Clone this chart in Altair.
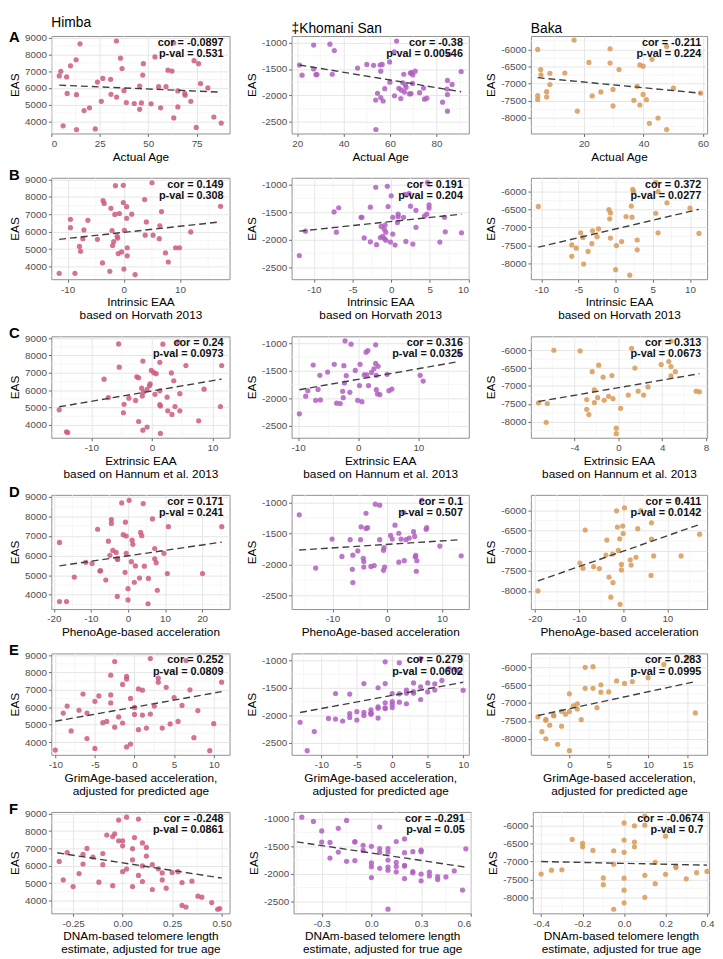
import altair as alt
import pandas as pd

FONT = "Liberation Sans"

populations = ["Himba", "‡Khomani San", "Baka"]
pop_colors = ["#CD5A7F", "#B05FC1", "#D89A56"]
y_domains = [[3270, 9100], [-2720, -875], [-8450, -5610]]
y_ticks = [[4000, 5000, 6000, 7000, 8000, 9000],
           [-2500, -2000, -1500, -1000],
           [-8000, -7500, -7000, -6500, -6000]]

row_letters = ["A", "B", "C", "D", "E", "F"]
row_xtitles = [["Actual Age"],
               ["Intrinsic EAA", "based on Horvath 2013"],
               ["Extrinsic EAA", "based on Hannum et al. 2013"],
               ["PhenoAge-based acceleration"],
               ["GrimAge-based acceleration,", "adjusted for predicted age"],
               ["DNAm-based telomere length", "estimate, adjusted for true age"]]

# ---------------- Row A: actual age ----------------
a1_x = [4.1,4.9,6.1,7.9,8.2,9.9,12.8,13.0,13.0,14.8,16.9,19.7,22.7,23.8,25.8,26.6,30.6,30.8,33.6,33.7,35.7,36.5,37.5,38.7,42.8,45.6,45.6,46.5,47.2,47.5,51.5,53.5,55.4,56.4,59.2,60.2,62.3,63.2,63.2,65.3,65.3,68.9,69.1,72.0,73.7,74.8,76.0,77.0,80.8,83.9,87.7]
a1_y = [6710,6985,3725,6655,5667,7315,7680,5593,3505,8634,4641,4806,3542,6344,5190,6564,6509,5612,8800,5447,7773,7150,5832,5117,5062,4714,6106,5099,6765,7443,5044,7846,6070,4806,6070,7058,7003,8689,4201,4860,5813,5667,5557,5190,7626,3634,7443,6253,5996,4256,3890]
a1_line_x = [4.1, 87.7]
a1_line_y = [6161, 5740]
a1_stats = ["cor = -0.0897", "p-val = 0.531"]
a1_xdom = [0, 92]
a1_xticks = [0, 25, 50, 75]

a2_x = [21.0,22.1,27.1,27.1,28.1,28.5,34.1,35.1,36.0,46.0,50.0,52.9,53.8,53.9,54.6,55.7,56.0,56.0,56.6,57.0,57.7,59.8,59.9,61.8,61.9,62.8,63.8,64.6,64.9,65.5,65.9,66.2,66.6,66.9,68.4,68.7,69.0,69.2,69.7,69.8,70.8,72.7,74.4,74.8,75.8,82.6,84.5,84.7,84.7,84.7,85.4,86.7,90.6]
a2_y = [-1424,-1616,-1047,-1500,-1605,-1605,-1029,-1599,-1151,-1483,-1413,-1430,-2087,-2645,-1959,-1424,-1541,-2041,-1413,-2105,-1872,-1366,-1750,-1174,-2006,-971,-1866,-2058,-1901,-1762,-1599,-1936,-1802,-1849,-1971,-1576,-1965,-1570,-1773,-1610,-1541,-1948,-1860,-2070,-2052,-2128,-1878,-1715,-1983,-2297,-1221,-1791,-1547]
a2_line_x = [21.0, 90.6]
a2_line_y = [-1424, -1930]
a2_stats = ["cor = -0.38", "p-val = 0.00546"]
a2_xdom = [17.6, 93.9]
a2_xticks = [20, 40, 60, 80]

a3_x = [4.5,4.5,4.5,5.5,5.6,7.5,7.5,8.6,8.6,13.6,16.7,17.8,21.7,22.8,25.7,28.8,28.8,29.8,29.8,31.8,36.8,37.9,38.8,38.8,39.9,39.9,41.0,42.0,42.9,44.9,47.8,47.8,50.1,59.2]
a3_y = [-6000,-7348,-7457,-6588,-6742,-7231,-7385,-6697,-7023,-6688,-5729,-7801,-6380,-7357,-7240,-5982,-6398,-7167,-7647,-6588,-7484,-7077,-6452,-7620,-6489,-7312,-7466,-8154,-6290,-8000,-5919,-8335,-7131,-7276]
a3_line_x = [4.5, 59.2]
a3_line_y = [-6824, -7276]
a3_stats = ["cor = -0.211", "p-val = 0.224"]
a3_xdom = [2.2, 61.4]
a3_xticks = [20, 40, 60]

# ---------------- Row B: intrinsic EAA ----------------
b1_x = [-11.5,-9.5,-9.5,-8.7,-7.9,-7.7,-7.3,-7.1,-6.4,-4.7,-3.8,-3.7,-3.5,-2.5,-2.3,-2.1,-2.0,-1.8,-1.6,-1.5,-1.2,-1.1,-1.0,-0.8,-0.4,-0.1,-0.1,0.0,0.1,0.5,0.5,0.6,0.6,1.4,2.0,3.7,3.8,4.0,5.0,5.2,6.3,6.4,6.7,7.4,7.9,9.2,9.9,11.9,17.2]
b1_y = [3610,6714,6230,3610,5152,4874,5599,6100,6658,5561,4204,7792,7625,3721,7346,6063,5208,5431,6993,8647,5729,5636,4743,7048,4836,8665,7680,3851,6082,7439,6770,5078,4613,7011,3535,7848,5803,6565,8814,5803,5599,6342,7160,4781,4260,5078,5078,5988,7457]
b1_line_x = [-11.5, 17.2]
b1_line_y = [5561, 6565]
b1_stats = ["cor = 0.149", "p-val = 0.308"]
b1_xdom = [-12.9, 18.8]
b1_xticks = [-10, 0, 10]

b2_x = [-11.9,-11.1,-7.4,-6.8,-7.1,-3.9,-3.8,-3.5,-2.7,-2.7,-2.0,-1.9,-1.4,-1.3,-1.1,-0.9,-0.9,-0.8,-0.7,-0.7,-0.5,-0.4,-0.1,0.0,0.2,0.2,0.5,0.8,0.9,0.9,1.6,1.8,1.9,2.3,2.5,2.8,3.2,3.2,4.3,4.6,4.7,4.9,4.9,6.3,6.9,7.0,9.1]
b2_y = [-2290,-1846,-1496,-1420,-1864,-1595,-1595,-1969,-1409,-2039,-1047,-2092,-1963,-1759,-1940,-1981,-1811,-1736,-2010,-1864,-1029,-1397,-2045,-1204,-1595,-1899,-2098,-1689,-1537,-1584,-1595,-1175,-2033,-1163,-1391,-2080,-1467,-1776,-1572,-1537,-959,-1368,-1426,-2045,-1595,-1858,-1876]
b2_line_x = [-11.9, 9.1]
b2_line_y = [-1846, -1537]
b2_stats = ["cor = 0.191", "p-val = 0.204"]
b2_xdom = [-12.9, 10.05]
b2_xticks = [-10, -5, 0, 5, 10]

b3_x = [-10.4,-5.9,-5.9,-5.3,-4.7,-4.4,-4.3,-3.7,-3.2,-3.1,-2.5,-2.3,-0.9,-0.8,-0.7,-0.7,0.0,0.1,0.8,1.4,1.9,2.1,2.2,2.3,2.4,2.9,2.9,5.4,5.4,5.7,5.7,6.9,10.0,11.2]
b3_y = [-6411,-7489,-7808,-7580,-7151,-7279,-8027,-7671,-7452,-7096,-7260,-7041,-6502,-6758,-7297,-6594,-8183,-7507,-7397,-6694,-8338,-6402,-6712,-5936,-6000,-7352,-7626,-5735,-6603,-6000,-7151,-6311,-6457,-7169]
b3_line_x = [-10.4, 11.2]
b3_line_y = [-7553, -6493]
b3_stats = ["cor = 0.372", "p-val = 0.0277"]
b3_xdom = [-11.4, 12.3]
b3_xticks = [-10, -5, 0, 5, 10]

# ---------------- Row C: extrinsic EAA ----------------
c1_x = [-15.3,-14.1,-13.9,-7.9,-7.2,-5.5,-5.4,-4.6,-4.7,-3.8,-2.7,-2.5,-2.2,-2.2,-1.7,-1.6,-1.5,-1.5,-1.4,-0.8,-0.8,-0.4,-0.3,-0.1,0.3,0.5,0.7,1.3,1.3,1.3,1.4,1.4,1.8,2.5,2.6,3.2,3.3,3.6,3.8,4.3,4.6,4.6,5.6,7.7,8.6,11.3,11.5]
c1_y = [4874,3610,3572,6639,5580,8665,7327,5190,4706,5543,5413,6770,6714,4204,6119,5673,7680,3703,5896,3888,6045,6268,6361,7141,7011,5766,6955,7606,5970,5171,5097,3517,8647,5599,4818,6993,4613,6546,5059,8777,4818,5803,7420,4242,6063,5059,7420]
c1_line_x = [-15.3, 11.5]
c1_line_y = [5050, 6639]
c1_stats = ["cor = 0.24", "p-val = 0.0973"]
c1_xdom = [-16.6, 12.8]
c1_xticks = [-10, 0, 10]

c2_x = [-9.8,-8.75,-8.4,-7.5,-7.1,-6.7,-6.4,-6.3,-5.1,-4.0,-3.6,-3.0,-2.6,-2.5,-2.4,-2.3,-2.2,-2.0,-1.2,-1.4,-0.5,-0.1,0.2,0.3,0.6,1.0,1.3,1.4,1.6,1.7,2.2,2.6,2.9,2.9,3.0,3.0,3.2,3.3,3.6,4.8,5.1,5.6,10.3,10.8,16.8]
c2_y = [-2284,-1963,-1864,-1397,-2039,-1841,-1584,-2033,-1525,-1385,-2092,-2098,-1876,-1992,-1409,-1724,-959,-1590,-1018,-1893,-1496,-2039,-1771,-1385,-2063,-1578,-1163,-1578,-1134,-1771,-1531,-1467,-1368,-1029,-1584,-1846,-1922,-1420,-1934,-1566,-1864,-1835,-1584,-1689,-1187]
c2_line_x = [-9.8, 16.8]
c2_line_y = [-1846, -1333]
c2_stats = ["cor = 0.316", "p-val = 0.0325"]
c2_xdom = [-11.1, 18.4]
c2_xticks = [-10, 0, 10]

c3_x = [-7.3,-6.5,-6.6,-5.9,-3.5,-2.9,-2.9,-2.7,-2.4,-2.2,-2.2,-1.9,-1.8,-1.4,-1.3,-0.9,-0.6,-0.5,-0.2,-0.2,0.2,0.9,1.2,1.5,1.8,2.3,2.7,3.9,4.6,4.8,4.8,4.8,5.2,7.1,7.4]
c3_y = [-7473,-7491,-8018,-6000,-6018,-7655,-7382,-7800,-6600,-7109,-7464,-7327,-6418,-6755,-7400,-7291,-6709,-7355,-8182,-8336,-7627,-7255,-5945,-6500,-7145,-7255,-7027,-6400,-6318,-6455,-6718,-5745,-6600,-7145,-7164]
c3_line_x = [-7.3, 7.4]
c3_line_y = [-7436, -6655]
c3_stats = ["cor = 0.313", "p-val = 0.0673"]
c3_xdom = [-8.0, 8.1]
c3_xticks = [-4, 0, 4, 8]

# ---------------- Row D: PhenoAge ----------------
d1_x = [-18.5,-18.5,-16.6,-14.5,-11.4,-9.7,-8.2,-7.6,-7.4,-6.0,-5.3,-4.9,-4.5,-4.5,-4.1,-3.2,-2.9,-2.8,-2.9,-1.7,-1.3,-0.8,-0.7,-0.5,-0.5,0.0,0.0,0.3,0.9,1.1,1.3,1.7,2.0,3.1,3.4,3.7,4.1,4.4,5.4,5.5,6.6,7.2,7.2,7.6,7.9,9.7,10.6,10.9,20.1,25.3]
d1_y = [6672,3656,3656,4902,5656,5590,7344,5213,5230,4754,6738,6016,7836,7639,6262,6164,5836,5803,3918,8689,7066,5148,7705,7000,6115,3738,4311,8820,5689,6787,6574,4639,5475,4852,7180,7016,8656,5459,3541,4836,7869,6361,5836,5639,4230,6115,5082,7475,5082,7475]
d1_line_x = [-18.5, 25.3]
d1_line_y = [5475, 6689]
d1_stats = ["cor = 0.171", "p-val = 0.241"]
d1_xdom = [-20.7, 27.4]
d1_xticks = [-20, -10, 0, 10, 20]

d2_x = [-16.1,-13.1,-10.1,-8.3,-6.8,-6.4,-6.3,-6.3,-5.4,-4.9,-4.8,-4.4,-4.3,-4.3,-3.9,-3.9,-3.6,-3.0,-2.4,-2.2,-1.4,-1.4,-0.7,-0.6,-0.7,-0.5,0.6,0.9,1.4,2.1,2.1,2.5,3.0,3.1,3.4,4.0,4.8,5.0,5.1,5.2,5.3,5.4,6.3,7.1,7.2,9.6,13.5]
d2_y = [-1198,-2057,-1589,-1870,-1599,-2078,-1849,-2292,-1781,-1599,-1391,-1901,-1953,-2042,-1172,-1417,-1406,-2031,-2016,-1026,-1042,-1599,-1771,-1729,-2094,-2042,-1531,-1589,-1365,-1495,-1963,-1589,-1156,-1938,-1599,-1573,-1469,-1547,-1875,-1854,-2109,-1938,-958,-1432,-1406,-1703,-1859]
d2_line_x = [-16.1, 13.5]
d2_line_y = [-1766, -1599]
d2_stats = ["cor = 0.1", "p-val = 0.507"]
d2_xdom = [-17.5, 14.9]
d2_xticks = [-10, 0, 10]

d3_x = [-19.3,-9.8,-9.1,-8.6,-6.7,-5.4,-3.9,-3.7,-3.2,-2.8,-2.4,-2.3,-1.5,-1.3,-1.1,-0.8,-0.7,-0.4,-0.4,-0.1,0.0,0.3,1.6,1.8,2.9,3.3,4.0,6.3,6.4,6.4,6.9,12.3,13.1,17.3]
d3_y = [-8000,-7306,-7435,-6484,-7395,-7444,-7105,-6734,-7653,-8153,-7081,-7790,-6008,-6411,-6992,-6702,-8331,-7476,-7339,-6387,-6573,-5935,-7226,-7355,-7161,-6452,-6000,-7613,-6306,-6710,-7129,-5734,-7129,-6589]
d3_line_x = [-19.3, 17.3]
d3_line_y = [-7750, -6347]
d3_stats = ["cor = 0.411", "p-val = 0.0142"]
d3_xdom = [-20.9, 19.0]
d3_xticks = [-20, -10, 0, 10]

# ---------------- Row E: GrimAge ----------------
e1_x = [-3,1,-1,-4.5,-6,-1.5,3,0,9.5,-2.5,-8,1.5,-10,-5,-3.5,5,-0.5,2,2,-2,-1,4,-7,-4,10,0.5,6,-1.5,-6.5,11,4.5,-3,-8.5,3.5,2.5,0.5,7,6.5,-6,-2.5,8,-9,1,5.5,-1,-5,3,-3,0,7.5,-0.5]
e1_y = [6710,6985,3725,6655,5667,7315,7680,5593,3505,8634,4641,4806,3542,6344,5190,6564,6509,5612,8800,5447,7773,7150,5832,5117,5062,4714,6106,5099,6765,7443,5044,7846,6070,4806,6070,7058,7003,8689,4201,4860,5813,5667,5557,5190,7626,3634,7443,6253,5996,4256,3890]
e1_line_x = [-10, 11]
e1_line_y = [5200, 6900]
e1_stats = ["cor = 0.252", "p-val = 0.0809"]
e1_xdom = [-10.5, 12.0]
e1_xticks = [-10, -5, 0, 5, 10]

e2_x = [-4,-6,1,-2,-8,0,-1,3,8,4,5,6,-5,-12,-3,-1,2,-6,3,-7,-2,7,0,9,-4,4,-1,-9,-3,1,2,-5,0,-2,-6,5,-3,3,-1,1,6,-4,0,-8,-2,-13,-1,4,-3,-11,9.5,2,10]
e2_y = [-1424,-1616,-1047,-1500,-1605,-1605,-1029,-1599,-1151,-1483,-1413,-1430,-2087,-2645,-1959,-1424,-1541,-2041,-1413,-2105,-1872,-1366,-1750,-1174,-2006,-971,-1866,-2058,-1901,-1762,-1599,-1936,-1802,-1849,-1971,-1576,-1965,-1570,-1773,-1610,-1541,-1948,-1860,-2070,-2052,-2128,-1878,-1715,-1983,-2297,-1221,-1791,-1547]
e2_line_x = [-13, 10]
e2_line_y = [-1950, -1400]
e2_stats = ["cor = 0.279", "p-val = 0.0602"]
e2_xdom = [-14.2, 10.8]
e2_xticks = [-10, -5, 0, 5, 10]

e3_x = [2,-2,-3,3,0,-1,-4,4,1,5,15,-3.5,6,-2,0,3,8,1,-1,2,-3,0.5,7,-2.5,4,-0.5,1.5,-1.5,10,-3,12,0,3.5,16]
e3_y = [-6000,-7348,-7457,-6588,-6742,-7231,-7385,-6697,-7023,-6688,-5729,-7801,-6380,-7357,-7240,-5982,-6398,-7167,-7647,-6588,-7484,-7077,-6452,-7620,-6489,-7312,-7466,-8154,-6290,-8000,-5919,-8335,-7131,-7276]
e3_line_x = [-4, 16]
e3_line_y = [-7350, -6400]
e3_stats = ["cor = 0.283", "p-val = 0.0995"]
e3_xdom = [-4.9, 17.5]
e3_xticks = [0, 5, 10, 15]

# ---------------- Row F: telomere length ----------------
f1_x = [-0.1,0.05,0.3,-0.2,0.0,0.1,-0.05,0.2,0.48,-0.02,0.15,-0.25,0.49,0.05,-0.3,0.12,-0.15,0.25,0.02,0.08,-0.08,0.0,0.18,0.35,-0.12,0.22,-0.2,0.1,-0.28,0.0,0.3,-0.04,0.15,0.05,-0.1,0.12,-0.18,0.08,0.4,-0.05,0.02,0.28,-0.22,0.2,0.06,0.32,-0.02,-0.32,0.1,0.38,0.45]
f1_y = [6710,6985,3725,6655,5667,7315,7680,5593,3505,8634,4641,4806,3542,6344,5190,6564,6509,5612,8800,5447,7773,7150,5832,5117,5062,4714,6106,5099,6765,7443,5044,7846,6070,4806,6070,7058,7003,8689,4201,4860,5813,5667,5557,5190,7626,3634,7443,6253,5996,4256,3890]
f1_line_x = [-0.33, 0.5]
f1_line_y = [6750, 5300]
f1_stats = ["cor = -0.248", "p-val = 0.0861"]
f1_xdom = [-0.36, 0.54]
f1_xticks = [-0.25, 0.0, 0.25, 0.5]

f2_x = [-0.1,0.2,-0.35,0.0,0.1,-0.2,-0.15,0.3,0.05,-0.05,0.15,-0.25,0.2,0.1,0.25,-0.3,0.05,0.35,-0.1,0.4,0.0,0.2,0.1,-0.2,0.3,-0.42,0.15,0.45,0.05,-0.1,0.25,0.1,0.0,0.2,0.35,-0.05,0.15,0.3,-0.15,0.05,0.1,0.5,0.2,0.0,0.4,0.3,0.1,-0.25,0.25,0.55,-0.3,0.15,0.57]
f2_y = [-1424,-1616,-1047,-1500,-1605,-1605,-1029,-1599,-1151,-1483,-1413,-1430,-2087,-2645,-1959,-1424,-1541,-2041,-1413,-2105,-1872,-1366,-1750,-1174,-2006,-971,-1866,-2058,-1901,-1762,-1599,-1936,-1802,-1849,-1971,-1576,-1965,-1570,-1773,-1610,-1541,-1948,-1860,-2070,-2052,-2128,-1878,-1715,-1983,-2297,-1221,-1791,-1547]
f2_line_x = [-0.45, 0.57]
f2_line_y = [-1420, -1880]
f2_stats = ["cor = -0.291", "p-val = 0.05"]
f2_xdom = [-0.47, 0.6]
f2_xticks = [-0.3, 0.0, 0.3, 0.6]

f3_x = [0.05,-0.4,-0.1,-0.2,0.0,-0.3,0.1,-0.05,0.15,-0.15,0.1,0.0,-0.25,0.2,-0.35,0.1,0.0,0.25,-0.1,0.05,0.3,-0.05,0.05,0.15,-0.2,0.35,0.0,0.0,0.2,0.1,0.0,-0.05,0.25,0.4]
f3_y = [-6000,-7348,-7457,-6588,-6742,-7231,-7385,-6697,-7023,-6688,-5729,-7801,-6380,-7357,-7240,-5982,-6398,-7167,-7647,-6588,-7484,-7077,-6452,-7620,-6489,-7312,-7466,-8154,-6290,-8000,-5919,-8335,-7131,-7276]
f3_line_x = [-0.4, 0.4]
f3_line_y = [-7000, -7100]
f3_stats = ["cor = -0.0674", "p-val = 0.7"]
f3_xdom = [-0.44, 0.41]
f3_xticks = [-0.4, -0.2, 0.0, 0.2, 0.4]

x_formats_by_row = {5: [".2f", ".1f", ".1f"]}

panels = [
    [(a1_x, a1_y, a1_line_x, a1_line_y, a1_stats, a1_xdom, a1_xticks),
     (a2_x, a2_y, a2_line_x, a2_line_y, a2_stats, a2_xdom, a2_xticks),
     (a3_x, a3_y, a3_line_x, a3_line_y, a3_stats, a3_xdom, a3_xticks)],
    [(b1_x, b1_y, b1_line_x, b1_line_y, b1_stats, b1_xdom, b1_xticks),
     (b2_x, b2_y, b2_line_x, b2_line_y, b2_stats, b2_xdom, b2_xticks),
     (b3_x, b3_y, b3_line_x, b3_line_y, b3_stats, b3_xdom, b3_xticks)],
    [(c1_x, c1_y, c1_line_x, c1_line_y, c1_stats, c1_xdom, c1_xticks),
     (c2_x, c2_y, c2_line_x, c2_line_y, c2_stats, c2_xdom, c2_xticks),
     (c3_x, c3_y, c3_line_x, c3_line_y, c3_stats, c3_xdom, c3_xticks)],
    [(d1_x, d1_y, d1_line_x, d1_line_y, d1_stats, d1_xdom, d1_xticks),
     (d2_x, d2_y, d2_line_x, d2_line_y, d2_stats, d2_xdom, d2_xticks),
     (d3_x, d3_y, d3_line_x, d3_line_y, d3_stats, d3_xdom, d3_xticks)],
    [(e1_x, e1_y, e1_line_x, e1_line_y, e1_stats, e1_xdom, e1_xticks),
     (e2_x, e2_y, e2_line_x, e2_line_y, e2_stats, e2_xdom, e2_xticks),
     (e3_x, e3_y, e3_line_x, e3_line_y, e3_stats, e3_xdom, e3_xticks)],
    [(f1_x, f1_y, f1_line_x, f1_line_y, f1_stats, f1_xdom, f1_xticks),
     (f2_x, f2_y, f2_line_x, f2_line_y, f2_stats, f2_xdom, f2_xticks),
     (f3_x, f3_y, f3_line_x, f3_line_y, f3_stats, f3_xdom, f3_xticks)],
]

# layout (sizes only)
col_widths = [181, 180, 179]
row_heights = [99, 103, 103, 116, 103, 103]

LABEL_EXPR = "replace(datum.label, '\u2212', '-')"


def minor_breaks(ticks, dom):
    step = ticks[1] - ticks[0]
    cand = [ticks[0] - step / 2] + [t + step / 2 for t in ticks]
    return [v for v in cand if dom[0] < v < dom[1]]


def make_panel(r, c):
    xs, ys, lx, ly, stats, xdom, xticks = panels[r][c]
    ydom, yt = y_domains[c], y_ticks[c]
    w, h = col_widths[c], row_heights[r]
    n = min(len(xs), len(ys))
    pts = pd.DataFrame({"x": xs[:n], "y": ys[:n]})
    xsc = alt.Scale(domain=xdom, nice=False, zero=False)
    ysc = alt.Scale(domain=ydom, nice=False, zero=False)
    xfmt = x_formats_by_row.get(r, ["d", "d", "d"])[c]
    xtitle = row_xtitles[r] if len(row_xtitles[r]) > 1 else row_xtitles[r][0]
    xax = alt.Axis(values=xticks, format=xfmt, labelExpr=LABEL_EXPR, title=xtitle)
    yax = alt.Axis(values=yt, format="d", labelExpr=LABEL_EXPR, title="EAS")
    X = alt.X("x:Q", scale=xsc, axis=xax)
    Y = alt.Y("y:Q", scale=ysc, axis=yax)

    minor_x = alt.Chart(pd.DataFrame({"x": minor_breaks(xticks, xdom)})).mark_rule(
        color="#F2F2F2", strokeWidth=0.7).encode(x=X)
    minor_y = alt.Chart(pd.DataFrame({"y": minor_breaks(yt, ydom)})).mark_rule(
        color="#F2F2F2", strokeWidth=0.7).encode(y=Y)
    points = alt.Chart(pts).mark_circle(size=28, opacity=0.85, color=pop_colors[c]).encode(x=X, y=Y)
    line = alt.Chart(pd.DataFrame({"x": lx, "y": ly})).mark_line(
        color="#3F3F3F", strokeWidth=1.4, strokeDash=[7, 4]).encode(x=X, y=Y)

    txt1 = alt.Chart(pd.DataFrame({"t": [stats[0]]})).mark_text(
        align="right", baseline="middle", fontSize=11, fontWeight="bold", color="#111111", font=FONT
    ).encode(text="t:N", x=alt.value(w - 6), y=alt.value(7))
    txt2 = alt.Chart(pd.DataFrame({"t": [stats[1]]})).mark_text(
        align="right", baseline="middle", fontSize=11, fontWeight="bold", color="#111111", font=FONT
    ).encode(text="t:N", x=alt.value(w - 6), y=alt.value(18.5))

    layers = [minor_x, minor_y, points, line, txt1, txt2]
    if c == 0:
        lab = alt.Chart(pd.DataFrame({"t": [row_letters[r]]})).mark_text(
            align="left", baseline="alphabetic", fontSize=15, fontWeight="bold", color="black", font=FONT
        ).encode(text="t:N", x=alt.value(-43), y=alt.value(6 if r == 0 else 2))
        layers.append(lab)

    ch = alt.layer(*layers).properties(width=w, height=h)
    if r == 0:
        ch = ch.properties(title=alt.TitleParams(text=populations[c], anchor="start", frame="group",
                                                 fontSize=14, fontWeight="normal", font=FONT,
                                                 color="black", offset=0))
    return ch


rows = []
for r in range(6):
    rows.append(alt.hconcat(*[make_panel(r, c) for c in range(3)], spacing=14))

chart = alt.vconcat(*rows, spacing=4).properties(
    padding={"left": 0, "top": 0, "right": 0, "bottom": 0}
).configure(font=FONT, background="white").configure_view(
    stroke="#8F8F8F", strokeWidth=1
).configure_axis(
    domain=False, grid=True, gridColor="#E6E6E6", gridWidth=1,
    tickColor="#444444", tickSize=3, tickWidth=0.8,
    labelColor="#4D4D4D", labelFontSize=10, labelFont=FONT, labelPadding=2,
    titleColor="black", titleFontSize=12, titleFontWeight="normal", titleFont=FONT,
    titlePadding=3, titleLineHeight=13,
)

chart.save("out.html", embed_options={"renderer": "svg", "actions": False})
